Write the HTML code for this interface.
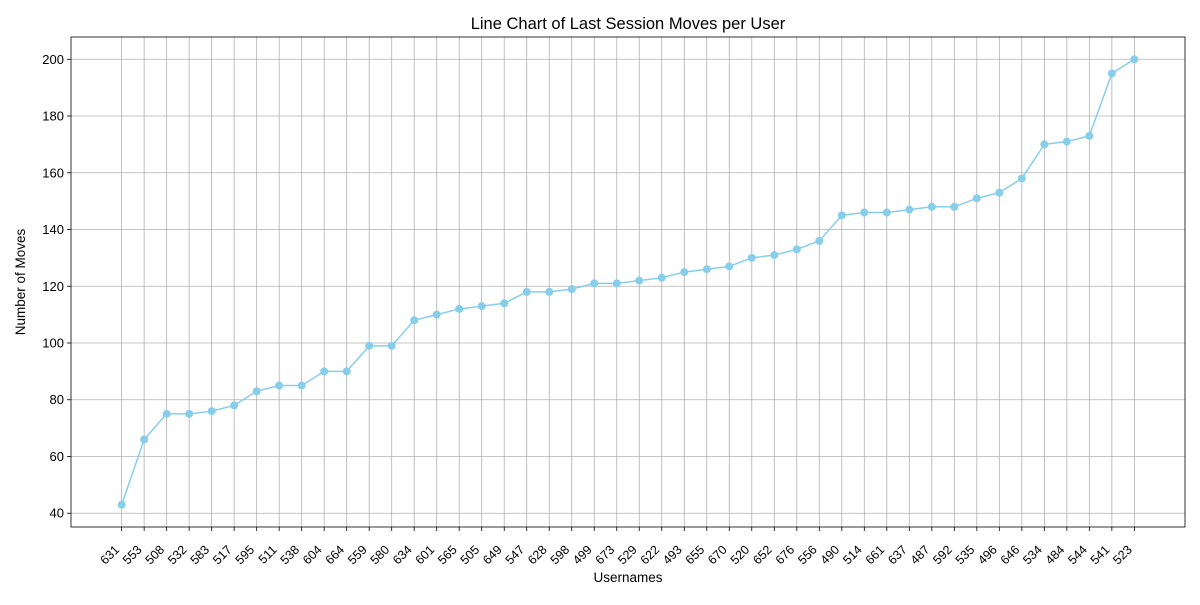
<!DOCTYPE html>
<html><head><meta charset="utf-8"><style>
body{margin:0;background:#fff;}
svg text{font-family:"Liberation Sans","DejaVu Sans",sans-serif;fill:#000;}
</style></head><body>
<svg id="chart" width="1200" height="600" xmlns="http://www.w3.org/2000/svg">
<rect width="1200" height="600" fill="#fff"/>
<text x="628" y="29" font-size="16.5" text-anchor="middle">Line Chart of Last Session Moves per User</text>
<g id="grid"></g><g id="axes"></g><g id="series"></g>
<text x="628" y="582" font-size="13.5" text-anchor="middle">Usernames</text>
<text x="25" y="282" font-size="13.5" text-anchor="middle" transform="rotate(-90 25 282)">Number of Moves</text>
</svg>
<script>
const users=["631","553","508","532","583","517","595","511","538","604","664","559","580","634","601","565","505","649","547","628","598","499","673","529","622","493","655","670","520","652","676","556","490","514","661","637","487","592","535","496","646","534","484","544","541","523"];
const moves=[43,66,75,75,76,78,83,85,85,90,90,99,99,108,110,112,113,114,118,118,119,121,121,122,123,125,126,127,130,131,133,136,145,146,146,147,148,148,151,153,158,170,171,173,195,200];
const yTicks=[40,60,80,100,120,140,160,180,200];
const L=71,R=1185,T=37,B=527,NS="http://www.w3.org/2000/svg";
const n=users.length,xp=(n-1)*0.05;
const x0=-xp,x1=n-1+xp;
const mn=Math.min(...moves),mx=Math.max(...moves),yp=(mx-mn)*0.05;
const y0=mn-yp,y1=mx+yp;
const X=i=>L+(i-x0)/(x1-x0)*(R-L);
const Y=v=>B-(v-y0)/(y1-y0)*(B-T);
function mk(tag,attrs,parent){const e=document.createElementNS(NS,tag);for(const k in attrs)e.setAttribute(k,attrs[k]);document.getElementById(parent).appendChild(e);return e;}
users.forEach((u,i)=>{
 const g=mk("line",{x1:X(i),x2:X(i),y1:T,y2:B,stroke:"#b0b0b0","stroke-width":0.8},"grid");
 
 
 const t=mk("line",{x1:X(i),x2:X(i),y1:B,y2:B+4,stroke:"#000","stroke-width":0.8},"axes");
 
 
 const lx=X(i)-6,ly=B+19;
 const tx=mk("text",{x:lx,y:ly,"font-size":12.5,"text-anchor":"end",transform:`rotate(-45 ${lx} ${ly})`,dy:"0.5em"},"axes");
 tx.textContent=u;
 
 
});
yTicks.forEach(v=>{
 const g=mk("line",{x1:L,x2:R,y1:Y(v),y2:Y(v),stroke:"#b0b0b0","stroke-width":0.8},"grid");
 
 
 const t=mk("line",{x1:L-4,x2:L,y1:Y(v),y2:Y(v),stroke:"#000","stroke-width":0.8},"axes");
 
 
 const tx=mk("text",{x:L-7,y:Y(v)+4.5,"font-size":13,"text-anchor":"end"},"axes");
 tx.textContent=v;
 
 
});
const fr=mk("rect",{x:L,y:T,width:R-L,height:B-T,fill:"none",stroke:"#000","stroke-width":0.8},"axes");


const pl=mk("polyline",{points:moves.map((v,i)=>X(i)+","+Y(v)).join(" "),fill:"none",stroke:"#87ceeb","stroke-width":1.5},"series");


moves.forEach((v,i)=>{
 const c=mk("circle",{cx:X(i),cy:Y(v),r:4,fill:"#87ceeb"},"series");
 
 
});
</script>
</body></html>
